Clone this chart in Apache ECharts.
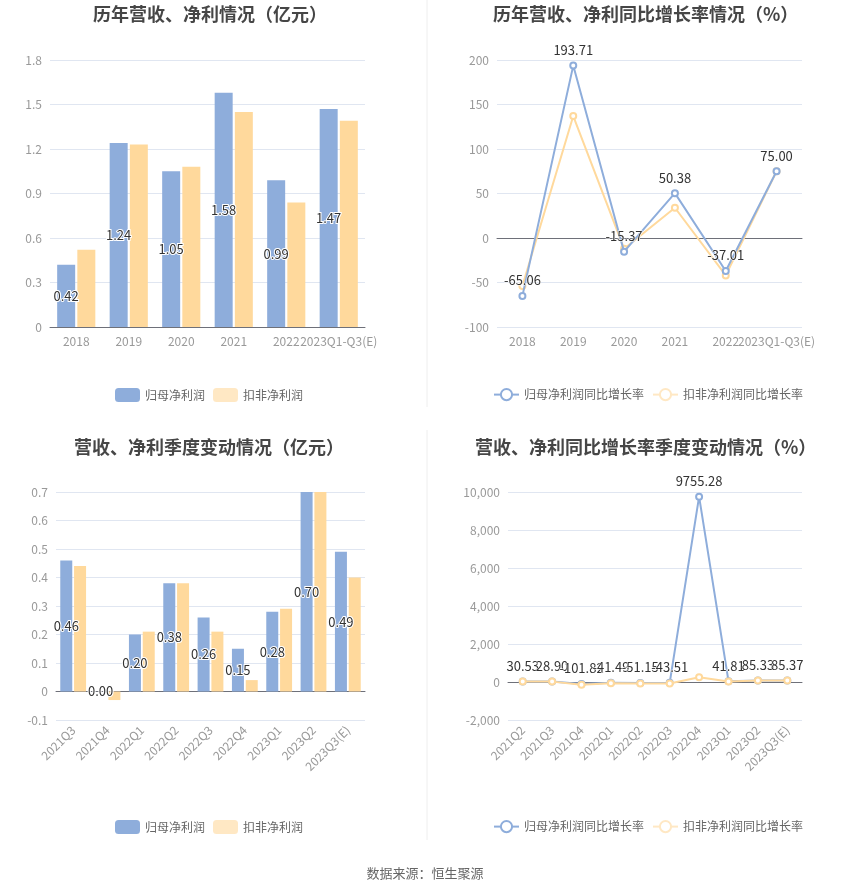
<!DOCTYPE html>
<html><head><meta charset="utf-8">
<script src="https://cdn.jsdelivr.net/npm/echarts@6/dist/echarts.min.js"></script>
<style>html,body{margin:0;padding:0;background:#fff}#c{width:850px;height:891px}</style>
</head><body><div id="c"></div>
<script>
var yearCats = ['2018','2019','2020','2021','2022','2023Q1-Q3(E)'];
var yearNet = [0.42,1.24,1.05,1.58,0.99,1.47];
var yearDeduct = [0.52,1.23,1.08,1.45,0.84,1.39];
var yearNetGrowth = [-65.06,193.71,-15.37,50.38,-37.01,75.00];
var yearDeductGrowth = [-54,137,-12,34,-42,75];
var qCats = ['2021Q3','2021Q4','2022Q1','2022Q2','2022Q3','2022Q4','2023Q1','2023Q2','2023Q3(E)'];
var qNet = [0.46,0.00,0.20,0.38,0.26,0.15,0.28,0.70,0.49];
var qDeduct = [0.44,-0.03,0.21,0.38,0.21,0.04,0.29,0.70,0.40];
var qgCats = ['2021Q2','2021Q3','2021Q4','2022Q1','2022Q2','2022Q3','2022Q4','2023Q1','2023Q2','2023Q3(E)'];
var qNetGrowth = [30.53,28.90,-101.82,-41.49,-51.15,-43.51,9755.28,41.81,85.33,85.37];
var qDeductGrowth = [25,20,-150,-60,-75,-75,250,25,75,75];

var BLUE = '#8eaddb', ORANGE = '#ffd99c', ORANGE_L = '#ffe8c4';
var FONT = 'Noto Sans CJK SC, sans-serif';
var chart = echarts.init(document.getElementById('c'));

function titleOf(text, left, top){
  return {text:text, left:left, top:top, textStyle:{fontSize:18, fontWeight:'bold', color:'#464646', fontFamily:FONT}};
}
function catAxis(gi, data, rotate){
  return {type:'category', gridIndex:gi, data:data,
    axisLine:{lineStyle:{color:'#6e7079'}},
    axisTick:{alignWithLabel:true, lineStyle:{color:'#6e7079'}},
    axisLabel:{color:'#999', fontSize:12, interval:0, rotate:rotate||0, margin:8}};
}
function valAxis(gi, min, max, interval){
  return {type:'value', gridIndex:gi, min:min, max:max, interval:interval,
    axisLine:{show:false}, axisTick:{show:false},
    axisLabel:{color:'#999', fontSize:12},
    splitLine:{lineStyle:{color:'#e0e6f1'}}};
}
var barLabel = {show:true, position:'inside', color:'#333', fontSize:13, textBorderColor:'#fff', textBorderWidth:2,
  formatter:function(p){return p.value.toFixed(2);}};
var lineLabel = {show:true, position:'top', color:'#333', fontSize:13, textBorderColor:'#fff', textBorderWidth:1,
  formatter:function(p){return p.value.toFixed(2);}};

function barLegend(left, top){
  return {left:left, top:top, itemWidth:25, itemHeight:14, textStyle:{color:'#666', fontSize:12},
    data:[{name:'归母净利润', itemStyle:{color:BLUE}}, {name:'扣非净利润', itemStyle:{color:ORANGE_L}}]};
}
function lineLegend(left, top){
  return {left:left, top:top, itemWidth:25, itemHeight:14, textStyle:{color:'#666', fontSize:12},
    data:[{name:'归母净利润同比增长率', itemStyle:{color:BLUE}, lineStyle:{color:BLUE}},
          {name:'扣非净利润同比增长率', itemStyle:{color:ORANGE_L}, lineStyle:{color:ORANGE_L}}]};
}

chart.setOption({
  animation:false,
  textStyle:{fontFamily:FONT},
  title:[
    titleOf('历年营收、净利情况（亿元）', 88, 0),
    titleOf('历年营收、净利同比增长率情况（%）', 488, 0),
    titleOf('营收、净利季度变动情况（亿元）', 69, 433),
    titleOf('营收、净利同比增长率季度变动情况（%）', 470, 433),
    {text:'数据来源：恒生聚源', left:'center', top:862, textStyle:{fontSize:13, fontWeight:'normal', color:'#666', fontFamily:FONT}}
  ],
  legend:[barLegend(110, 383), lineLegend(488, 383), barLegend(110, 815), lineLegend(488, 815)],
  grid:[
    {left:50, right:485, top:60, bottom:564},
    {left:497, right:48, top:60, bottom:564},
    {left:56, right:485, top:492, bottom:171},
    {left:508, right:48, top:492, bottom:171}
  ],
  xAxis:[catAxis(0, yearCats), catAxis(1, yearCats), catAxis(2, qCats, 45), catAxis(3, qgCats, 45)],
  yAxis:[valAxis(0, 0, 1.8, 0.3), valAxis(1, -100, 200, 50), valAxis(2, -0.1, 0.7, 0.1), valAxis(3, -2000, 10000, 2000)],
  graphic:[
    {type:'line', shape:{x1:427, y1:0, x2:427, y2:407}, style:{stroke:'#eeeeee', lineWidth:1}},
    {type:'line', shape:{x1:427, y1:430, x2:427, y2:840}, style:{stroke:'#eeeeee', lineWidth:1}}
  ],
  series:[
    {name:'归母净利润', type:'bar', xAxisIndex:0, yAxisIndex:0, data:yearNet, barWidth:18, barGap:'12%', itemStyle:{color:BLUE}, label:barLabel},
    {name:'扣非净利润', type:'bar', xAxisIndex:0, yAxisIndex:0, data:yearDeduct, barWidth:18, barGap:'12%', itemStyle:{color:ORANGE}},
    {name:'归母净利润同比增长率', type:'line', xAxisIndex:1, yAxisIndex:1, data:yearNetGrowth, symbol:'emptyCircle', symbolSize:6, lineStyle:{width:2, color:BLUE}, itemStyle:{color:BLUE}, label:lineLabel, z:3},
    {name:'扣非净利润同比增长率', type:'line', xAxisIndex:1, yAxisIndex:1, data:yearDeductGrowth, symbol:'emptyCircle', symbolSize:6, lineStyle:{width:2, color:ORANGE}, itemStyle:{color:ORANGE}, z:2},
    {name:'归母净利润', type:'bar', xAxisIndex:2, yAxisIndex:2, data:qNet, barWidth:12, barGap:'15%', itemStyle:{color:BLUE}, label:barLabel},
    {name:'扣非净利润', type:'bar', xAxisIndex:2, yAxisIndex:2, data:qDeduct, barWidth:12, barGap:'15%', itemStyle:{color:ORANGE}},
    {name:'归母净利润同比增长率', type:'line', xAxisIndex:3, yAxisIndex:3, data:qNetGrowth, symbol:'emptyCircle', symbolSize:6, lineStyle:{width:2, color:BLUE}, itemStyle:{color:BLUE}, label:lineLabel, z:2},
    {name:'扣非净利润同比增长率', type:'line', xAxisIndex:3, yAxisIndex:3, data:qDeductGrowth, symbol:'emptyCircle', symbolSize:6, lineStyle:{width:2, color:ORANGE}, itemStyle:{color:ORANGE}, z:3}
  ]
});
</script></body></html>
